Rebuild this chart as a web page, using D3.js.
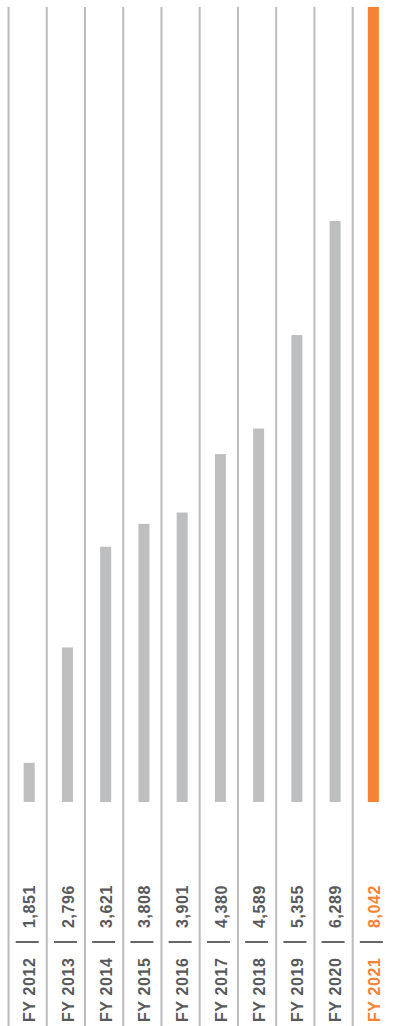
<!DOCTYPE html>
<html>
<head>
<meta charset="utf-8">
<script src="https://cdn.jsdelivr.net/npm/d3@7"></script>
<style>
  body { margin: 0; background: #fff; }
  text { font-family: "Liberation Sans", Arial, sans-serif; font-weight: bold; }
</style>
</head>
<body>
<div class="app"></div>
<script>
// Data
var years = ["FY 2012", "FY 2013", "FY 2014", "FY 2015", "FY 2016", "FY 2017", "FY 2018", "FY 2019", "FY 2020", "FY 2021"];
var values = [1851, 2796, 3621, 3808, 3901, 4380, 4589, 5355, 6289, 8042];
var valueLabels = ["1,851", "2,796", "3,621", "3,808", "3,901", "4,380", "4,589", "5,355", "6,289", "8,042"];
var axisMin = 1530; // bars don't start from zero in the original

var W = 395, H = 1026;
var grey = "#bdbec0", orange = "#f58235", textGrey = "#58595b", lineGrey = "#bbbbbb";

var svg = d3.select(".app").append("svg")
    .attr("width", W)
    .attr("height", H);

var x = d3.scaleBand().domain(years).range([8.5, 8.5 + 38.24 * years.length]).paddingInner(0);
var y = d3.scaleLinear().domain([axisMin, d3.max(values)]).range([802, 7]);

var data = years.map(function(d, i){ return {year: d, value: values[i], label: valueLabels[i], last: i === years.length - 1}; });

// column separators
svg.selectAll(".sep")
    .data(data)
    .enter()
    .append("line")
    .attr("class", "sep")
    .attr("x1", function(d){ return x(d.year); })
    .attr("x2", function(d){ return x(d.year); })
    .attr("y1", 7)
    .attr("y2", H)
    .attr("stroke", lineGrey)
    .attr("stroke-width", 2);

var barW = 11, off = 20.7;

svg.selectAll(".bar")
    .data(data)
    .enter()
    .append("rect")
    .attr("class", "bar")
    .attr("x", function(d){ return x(d.year) + off - barW / 2; })
    .attr("y", function(d){ return y(d.value); })
    .attr("width", barW)
    .attr("height", function(d){ return y(axisMin) - y(d.value); })
    .attr("fill", function(d){ return d.last ? orange : grey; });

// labels, rotated
var labels = svg.selectAll(".lab")
    .data(data)
    .enter()
    .append("g")
    .attr("class", "lab")
    .attr("transform", function(d){ return "translate(" + (x(d.year) + off + 0.5) + ",0)"; });

labels.append("text")
    .attr("transform", "translate(0,1022) rotate(-90)")
    .attr("dy", "0.36em")
    .style("font-size", "16px")
    .style("letter-spacing", "0.6px")
    .attr("fill", function(d){ return d.last ? orange : textGrey; })
    .text(function(d){ return d.year; });

labels.append("line")
    .attr("x1", -14)
    .attr("x2", 9)
    .attr("y1", 942)
    .attr("y2", 942)
    .attr("stroke", "#333")
    .attr("stroke-width", 1.5);

labels.append("text")
    .attr("transform", "translate(0,928) rotate(-90)")
    .attr("dy", "0.36em")
    .style("font-size", "16px")
    .style("letter-spacing", "0.6px")
    .attr("fill", function(d){ return d.last ? orange : textGrey; })
    .text(function(d){ return d.label; });
</script>
</body>
</html>
